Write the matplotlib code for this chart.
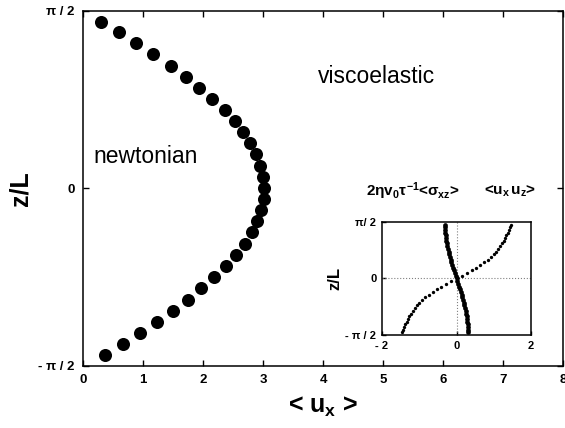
import numpy as np
import matplotlib
matplotlib.use('Agg')
import matplotlib.pyplot as plt

plt.rcParams['font.family'] = ['Liberation Sans', 'DejaVu Sans']
plt.rcParams['font.weight'] = 'bold'
plt.rcParams['axes.labelweight'] = 'bold'
plt.rcParams['mathtext.fontset'] = 'custom'
plt.rcParams['mathtext.rm'] = 'Liberation Sans:bold'
plt.rcParams['mathtext.it'] = 'Liberation Sans:bold'
plt.rcParams['mathtext.bf'] = 'Liberation Sans:bold'

# main profile: mean velocity vs height
ux = [0.30, 0.60, 0.89, 1.17, 1.46, 1.71, 1.94, 2.15, 2.36, 2.53, 2.67,
      2.78, 2.88, 2.95, 3.00, 3.02, 3.01, 2.97, 2.90, 2.81, 2.70, 2.55,
      2.38, 2.19, 1.97, 1.75, 1.50, 1.23, 0.95, 0.66, 0.36]
zl = [1.473, 1.382, 1.285, 1.188, 1.087, 0.989, 0.889, 0.792, 0.695, 0.597,
      0.497, 0.400, 0.303, 0.202, 0.104, 0.0, -0.093, -0.190, -0.290,
      -0.388, -0.488, -0.588, -0.686, -0.783, -0.883, -0.984, -1.081,
      -1.179, -1.276, -1.373, -1.473]

# inset: stress and Reynolds stress profiles
zIn = [-1.5, -1.425, -1.35, -1.275, -1.2, -1.125, -1.05, -0.975, -0.9,
       -0.825, -0.75, -0.675, -0.6, -0.525, -0.45, -0.375, -0.3, -0.225,
       -0.15, -0.075, 0.0, 0.075, 0.15, 0.225, 0.3, 0.375, 0.45, 0.525, 0.6,
       0.675, 0.75, 0.825, 0.9, 0.975, 1.05, 1.125, 1.2, 1.275, 1.35, 1.425,
       1.5]
sigmaXZ = [0.309, 0.307, 0.303, 0.297, 0.289, 0.280, 0.269, 0.257, 0.243,
           0.228, 0.211, 0.194, 0.175, 0.155, 0.135, 0.113, 0.092, 0.069,
           0.046, 0.023, 0.0, -0.023, -0.046, -0.069, -0.092, -0.113, -0.135,
           -0.155, -0.175, -0.194, -0.211, -0.228, -0.243, -0.257, -0.269,
           -0.280, -0.289, -0.297, -0.303, -0.307, -0.309]
uxuz = [-1.45, -1.43, -1.40, -1.37, -1.34, -1.31, -1.27, -1.23, -1.17,
        -1.12, -1.06, -1.00, -0.92, -0.84, -0.74, -0.64, -0.53, -0.41,
        -0.28, -0.14, 0.0, 0.14, 0.28, 0.41, 0.53, 0.64, 0.74, 0.84, 0.92,
        1.00, 1.06, 1.12, 1.17, 1.23, 1.27, 1.31, 1.34, 1.37, 1.40, 1.43,
        1.45]

xTicks = [0, 1, 2, 3, 4, 5, 6, 7, 8]
yTicks = [-np.pi/2, 0, np.pi/2]
yTickLabels = ['- \u03c0 / 2', '0', '\u03c0 / 2']
inXTicks = [-2, 0, 2]
inXTickLabels = ['- 2', '0', '2']
inYTickLabels = ['- \u03c0 / 2', '0', '\u03c0/ 2']

fig = plt.figure(figsize=(5.65, 4.28), dpi=100)
ax = fig.add_axes([0.1469, 0.1449, 0.8496, 0.8294])
ax.plot(ux, zl, 'o', color='black', markersize=9.4, markeredgewidth=0)
ax.set_xlim(0, 8)
ax.set_ylim(-np.pi/2, np.pi/2)
ax.set_xticks(xTicks)
ax.set_yticks(yTicks)
ax.set_yticklabels(yTickLabels)
ax.tick_params(direction='in', top=True, right=True, length=4, width=1,
               labelsize=9.5, pad=6)
for s in ax.spines.values():
    s.set_linewidth(1.1)
ax.set_xlabel(r'< $u_x$ >', fontsize=18, labelpad=6)
ax.set_ylabel('z/L', fontsize=18, labelpad=4)
ax.text(0.18, 0.23, 'newtonian', fontsize=16.5, fontweight='normal')
ax.text(3.92, 0.93, 'viscoelastic', fontsize=16.5, fontweight='normal')

# inset
axIn = fig.add_axes([0.676, 0.2173, 0.264, 0.264])
axIn.axvline(0, color='gray', linestyle=':', linewidth=0.8)
axIn.axhline(0, color='gray', linestyle=':', linewidth=0.8)
axIn.plot(sigmaXZ, zIn, 'o', color='black', markersize=3.4,
          markeredgewidth=0)
axIn.plot(uxuz, zIn, 'o', color='black', markersize=2.4, markeredgewidth=0)
axIn.set_xlim(-2, 2)
axIn.set_ylim(-np.pi/2, np.pi/2)
axIn.set_xticks(inXTicks)
axIn.set_xticklabels(inXTickLabels)
axIn.set_yticks(yTicks)
axIn.set_yticklabels(inYTickLabels)
axIn.tick_params(direction='in', length=3, width=1, labelsize=8, pad=4)
for s in axIn.spines.values():
    s.set_linewidth(1.1)
axIn.set_ylabel('z/L', fontsize=12, labelpad=2)

fig.text(0.731, 0.553, r'$2\eta v_0\tau^{-1}$<$\sigma_{xz}$>', fontsize=11,
         ha='center', va='center')
fig.text(0.903, 0.553, r'<$u_x\,u_z$>', fontsize=11, ha='center',
         va='center')

fig.savefig('out.png', dpi=100)
